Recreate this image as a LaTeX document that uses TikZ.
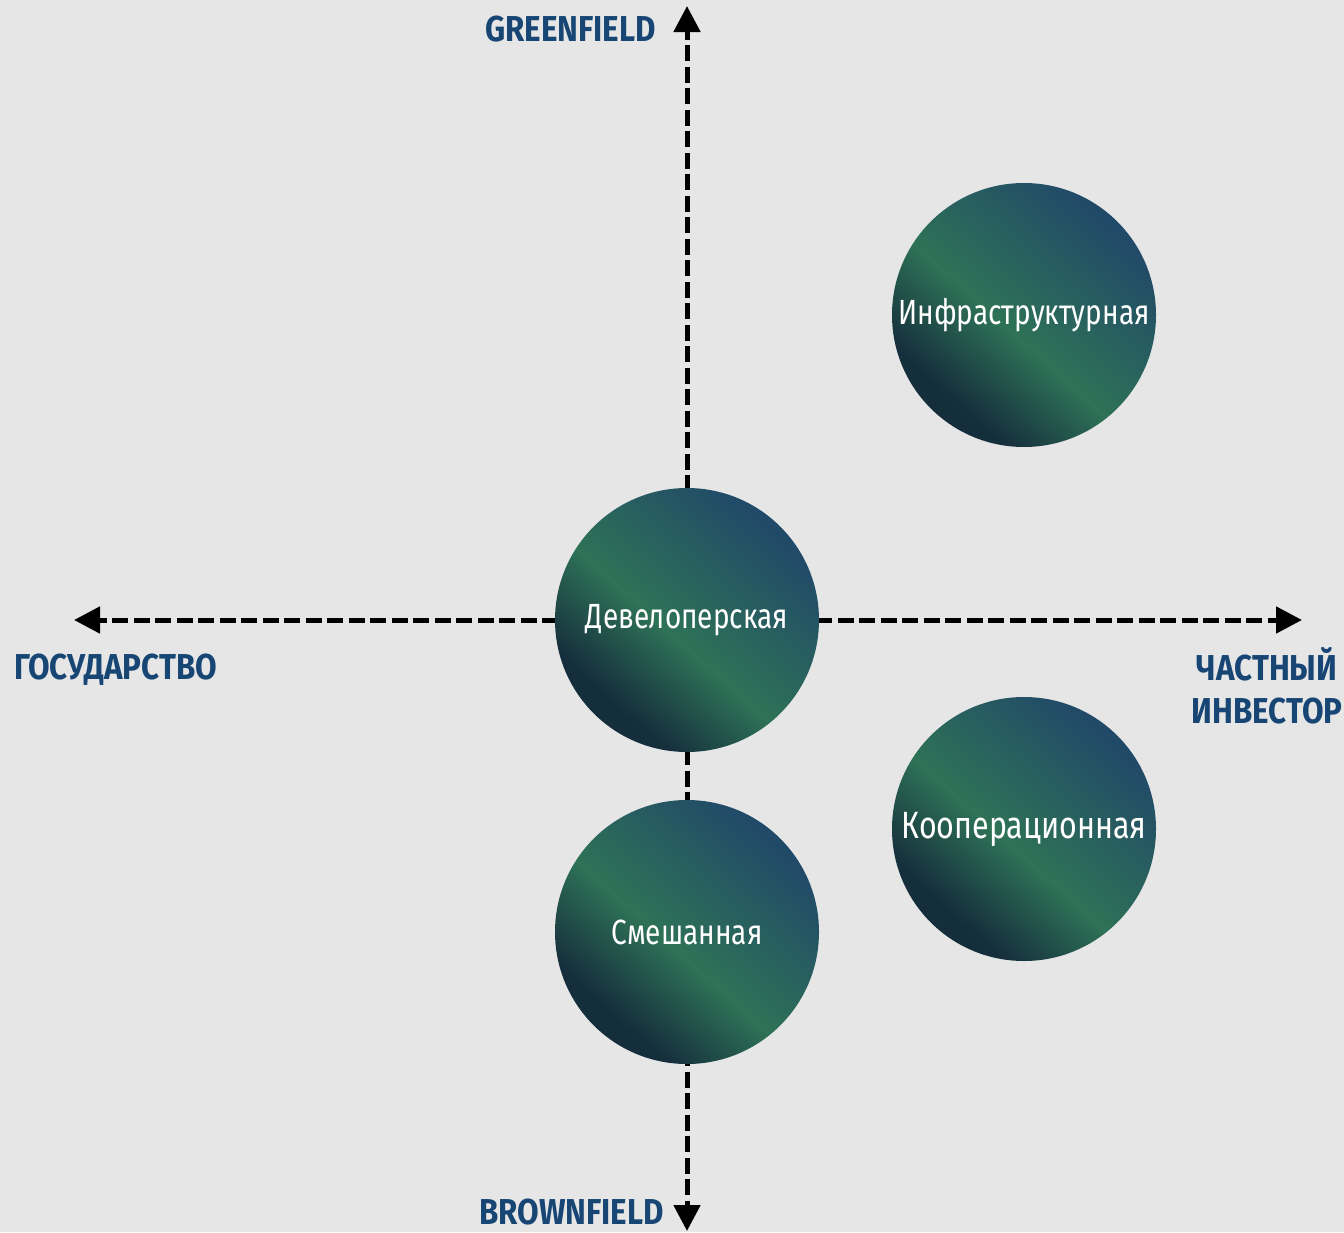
\documentclass[tikz,border=0pt]{standalone}
\usepackage{fontspec}
\usetikzlibrary{arrows.meta,positioning}
\newfontfamily\orbfont{Fira Sans}[FakeStretch=0.8]
\newfontfamily\polefont{Fira Sans}[FakeStretch=0.87]
\definecolor{paper}{HTML}{E6E6E6}
\definecolor{poleblue}{HTML}{174674}
\definecolor{orbdark}{HTML}{152E3C}
\definecolor{orbgreen}{HTML}{2E7257}
\definecolor{orbblue}{HTML}{214968}
\pgfdeclarehorizontalshading{orbshade}{100bp}{color(0bp)=(orbdark); color(29bp)=(orbdark); color(46bp)=(orbgreen); color(74bp)=(orbblue); color(100bp)=(orbblue)}

\begin{document}
\begin{tikzpicture}[x=1pt, y=-1pt, node distance=312pt,
    orb/.style = {circle, minimum size=264pt, inner sep=0pt, shade, shading=orbshade, shading angle=48, text=white, font=\orbfont\fontsize{35}{40}\selectfont},
    axis/.style = {line width=5pt, dash pattern=on 16pt off 5.5pt, -{Triangle[length=26pt, width=26pt]}},
    pole/.style = {text=poleblue, inner sep=0pt, font=\polefont\bfseries\fontsize{36}{43}\selectfont}]
  \useasboundingbox[fill=paper] (0,0) rectangle (1344,1232);
  % axes
  \coordinate (c) at (687,620);
  \coordinate (w) at (74,620);
  \coordinate (e) at (1302,620);
  \coordinate (n) at (687,6);
  \coordinate (s) at (687,1231);
  \draw[axis] (c) -- (w);
  \draw[axis] (c) -- (e);
  \draw[axis] (c) -- (n);
  \draw[axis] (c) -- (s);
  % circles
  \node[orb] (dev) at (687,620) {Девелоперская};
  \node[orb] (mix) [below of=dev] {Смешанная};
  \node[orb] (infra) at (1024,315) {Инфраструктурная};
  \node[orb, node distance=514pt, font=\orbfont\fontsize{38}{40}\selectfont] (coop) [below of=infra] {Кооперационная};
  % poles
  \node[pole, anchor=base east] (green) at (656,41) {GREENFIELD};
  \node[pole, anchor=base east] (brown) at (664,1224) {BROWNFIELD};
  \node[pole, anchor=base west] (state) at (14,679) {ГОСУДАРСТВО};
  \node[pole, align=center, anchor=base] (priv) at (1267,723) {ЧАСТНЫЙ\\ИНВЕСТОР};
\end{tikzpicture}
\end{document}
